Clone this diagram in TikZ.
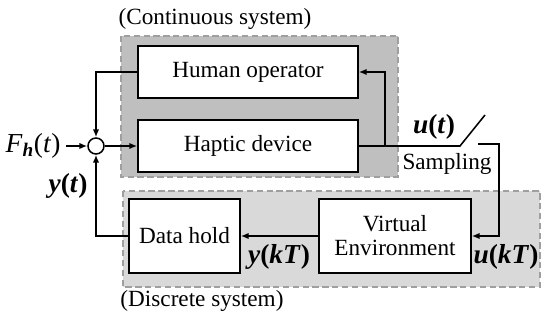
\documentclass[tikz,border=0pt]{standalone}
\usepackage{fontspec}
\setmainfont{Liberation Serif}
\usetikzlibrary{arrows.meta,positioning,calc}

\begin{document}
\begin{tikzpicture}[
  x=0.025cm, y=-0.025cm,
  every node/.style={align=center, font=\fontsize{16.5}{17}\selectfont},
  box/.style={draw, line width=1.1pt, fill=white, minimum height=1.3cm, inner sep=0pt},
  region/.style={draw=gray!75, dashed, dash pattern=on 4.5pt off 2.5pt, line width=1.3pt},
  sumnode/.style={draw, circle, line width=1.1pt, fill=white, minimum size=0.4cm, inner sep=0pt},
  arrow/.style={-{Latex[length=5.5pt, width=4.5pt]}, line width=1.1pt},
  wire/.style={line width=1.1pt},
  sig/.style={inner sep=1pt, font=\fontsize{19.5}{20}\selectfont}
]
  \useasboundingbox (0,0) rectangle (542,320);

  % Continuous / discrete parts
  \path[region, fill=gray!50] (121,36) rectangle (398,177);
  \path[region, fill=gray!30] (123,191) rectangle (540,287);
  \node (contlbl) at (215,19) {(Continuous system)};
  \node (disclbl) at (202,301) {(Discrete system)};

  % Blocks
  \node[box, minimum width=5.5cm] (human) at (248,72) {Human operator};
  \node[box, minimum width=5.5cm] (haptic) at (248,146) {Haptic device};
  \node[box, minimum width=2.775cm, minimum height=1.85cm] (hold) at (184.5,236) {Data hold};
  \node[box, minimum width=3.8cm, minimum height=1.85cm] (venv) at (395,236) {Virtual\\Environment};
  \node[sumnode] (sum) at (96,146) {};

  % Signal labels
  \node[sig] (fh) at (33,146) {\textit{F}\textsubscript{\textbf{\textit{h}}}(\textit{t})};
  \node[sig] (yt) at (68,186) {\textbf{\textit{y}(\textit{t})}};
  \node[sig] (ut) at (434,127) {\textbf{\textit{u}(\textit{t})}};
  \node (samp) at (447,164) {Sampling};
  \node[sig] (ukt) at (506,257) {\textbf{\textit{u}(\textit{kT})}};
  \node[sig] (ykt) at (279,257) {\textbf{\textit{y}(\textit{kT})}};

  % Sampler switch
  \coordinate (swin) at (460,146);
  \coordinate (swtip) at (485,115);
  \coordinate (swout) at (478,144);
  \coordinate (swend) at (499,144);
  \coordinate (branch) at (385,146);

  % Connections
  \draw[arrow] ([xshift=3pt]fh.east) -- (sum.west);
  \draw[arrow] (sum.east) -- (haptic.west);
  \draw[arrow] (human.west) -| (sum.north);
  \draw[wire] (haptic.east) -- (swin) -- (swtip);
  \draw[arrow] (branch) |- (human.east);
  \draw[arrow] (swout) -- (swend) |- (venv.east);
  \draw[arrow] (venv.west) -- (hold.east);
  \draw[arrow] (hold.west) -| (sum.south);
\end{tikzpicture}
\end{document}
